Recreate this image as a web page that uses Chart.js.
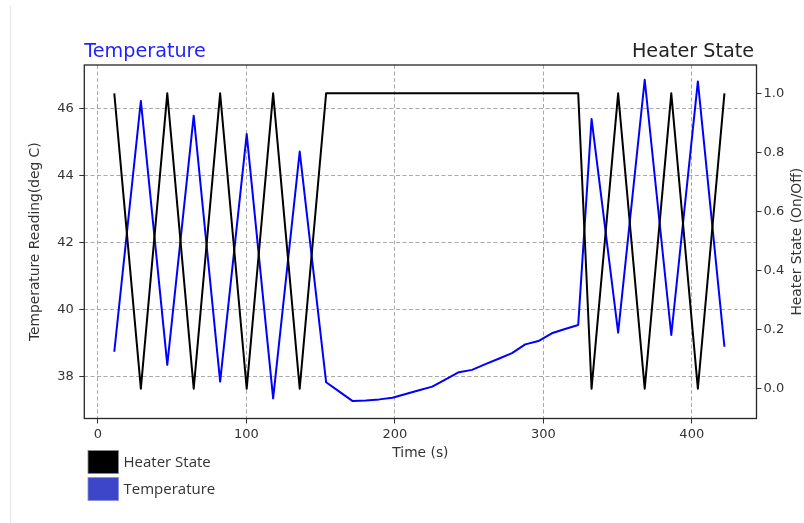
<!DOCTYPE html>
<html><head><meta charset="utf-8">
<script src="https://cdn.jsdelivr.net/npm/chart.js@4/dist/chart.umd.min.js"></script>
<style>
html,body{margin:0;padding:0;background:#fff;}
#wrap{position:relative;width:804px;height:523px;overflow:hidden;background:#fff;}
#edge{position:absolute;left:10px;top:6px;width:1px;height:517px;background:#e4e4e4;}
canvas{position:absolute;left:0;top:0;}
</style></head><body>
<div id="wrap"><div id="edge"></div><canvas id="c" width="804" height="523"></canvas></div>
<script>
// ---- data ----
const times = [11.0, 28.9, 46.7, 64.5, 82.3, 100.2, 118.0, 135.9,
  153.7, 162.6, 171.6, 180.5, 189.5, 198.4, 207.3, 216.3, 225.2, 234.2,
  243.1, 252.0, 261.0, 269.9, 278.9, 287.8, 296.7, 305.7, 314.6, 323.5,
  332.5, 350.4, 368.3, 386.2, 404.1, 422.0];
const temperature = [38.75, 46.23, 38.36, 45.79, 37.86, 45.24, 37.36, 44.72,
  37.84, 37.56, 37.28, 37.30, 37.33, 37.38, 37.49, 37.60, 37.71, 37.93,
  38.14, 38.21, 38.38, 38.54, 38.71, 38.97, 39.07, 39.30, 39.43, 39.55,
  45.69, 39.32, 46.86, 39.25, 46.81, 38.90];
const heaterState = [1, 0, 1, 0, 1, 0, 1, 0,
  1, 1, 1, 1, 1, 1, 1, 1, 1, 1,
  1, 1, 1, 1, 1, 1, 1, 1, 1, 1,
  0, 1, 0, 1, 0, 1];
const xTicks = [0, 100, 200, 300, 400];
const tempTicks = [38, 40, 42, 44, 46];
const heaterTicks = [0, 0.2, 0.4, 0.6, 0.8, 1.0];
const leftTitle = 'Temperature';
const rightTitle = 'Heater State';
const xLabel = 'Time (s)';
const tempLabel = 'Temperature Reading(deg C)';
const heaterLabel = 'Heater State (On/Off)';
const legendItems = [['Heater State', '#000000'], ['Temperature', '#3d46c8']];

const FONT = '"DejaVu Sans", sans-serif';
const tickFont = {family: FONT, size: 13, lineHeight: 1.2};
const titleFont = {family: FONT, size: 13.8, lineHeight: 1.2};

const extras = {
  id: 'extras',
  afterDraw(chart) {
    const ctx = chart.ctx, a = chart.chartArea;
    ctx.save();
    // frame
    ctx.setLineDash([]);
    ctx.lineWidth = 1.3;
    ctx.strokeStyle = '#262626';
    ctx.strokeRect(a.left, a.top, a.right - a.left, a.bottom - a.top);
    // titles
    ctx.font = '19.2px ' + FONT;
    ctx.textBaseline = 'alphabetic';
    ctx.fillStyle = '#1f1fff';
    ctx.textAlign = 'left';
    ctx.fillText(leftTitle, a.left, 57);
    ctx.fillStyle = '#222';
    ctx.textAlign = 'right';
    ctx.fillText(rightTitle, a.right - 2.5, 57);
    // right axis title (reads bottom to top)
    ctx.save();
    ctx.translate(797.5, (a.top + a.bottom) / 2);
    ctx.rotate(-Math.PI / 2);
    ctx.font = '13.8px ' + FONT;
    ctx.fillStyle = '#333';
    ctx.textAlign = 'center';
    ctx.textBaseline = 'middle';
    ctx.fillText(heaterLabel, 0, 0);
    ctx.restore();
    // legend
    ctx.font = '15px "Open Sans", sans-serif';
    ctx.textAlign = 'left';
    ctx.textBaseline = 'middle';
    legendItems.forEach((it, i) => {
      const y = 450.5 + i * 27;
      ctx.fillStyle = it[1];
      ctx.fillRect(88, y, 30.5, 23);
      ctx.lineWidth = 0.8;
      ctx.strokeStyle = i === 0 ? '#888' : '#8a90e0';
      ctx.strokeRect(88, y, 30.5, 23);
      ctx.fillStyle = '#333';
      ctx.fillText(it[0], 123.5, y + 12);
    });
    ctx.restore();
  }
};

new Chart(document.getElementById('c'), {
  type: 'line',
  data: {
    datasets: [
      {label: 'Heater State', data: times.map((t, i) => ({x: t, y: heaterState[i]})),
       yAxisID: 'yHeater', borderColor: '#000000', borderWidth: 2, pointRadius: 0,
       borderJoinStyle: 'round', borderCapStyle: 'butt',
       tension: 0, fill: false, order: 0},
      {label: 'Temperature', data: times.map((t, i) => ({x: t, y: temperature[i]})),
       yAxisID: 'yTemp', borderColor: '#0000ff', borderWidth: 2, pointRadius: 0,
       borderJoinStyle: 'round', borderCapStyle: 'butt',
       tension: 0, fill: false, order: 1}
    ]
  },
  options: {
    responsive: false, animation: false, devicePixelRatio: 1,
    layout: {padding: {top: 65, left: 0, right: 0, bottom: 0}},
    plugins: {legend: {display: false}, tooltip: {enabled: false}, title: {display: false}},
    scales: {
      x: {
        type: 'linear', position: 'bottom', min: -9.2, max: 443.6,
        afterBuildTicks: s => { s.ticks = xTicks.map(v => ({value: v})); },
        afterFit: s => { s.height = 104.5; },
        ticks: {color: '#333', font: tickFont, padding: 3, maxRotation: 0, autoSkip: false},
        grid: {color: '#a9a9a9', lineWidth: 1, tickLength: 5, tickColor: '#333', tickWidth: 1},
        border: {display: false, dash: [4, 2.5]},
        title: {display: true, text: xLabel, color: '#333', font: titleFont, padding: {top: 0, bottom: 61}}
      },
      yTemp: {
        type: 'linear', position: 'left', min: 36.76, max: 47.30,
        afterBuildTicks: s => { s.ticks = tempTicks.map(v => ({value: v})); },
        afterFit: s => { s.width = 84.3; },
        ticks: {color: '#333', font: tickFont, padding: 5.5, autoSkip: false},
        grid: {color: '#a9a9a9', lineWidth: 1, tickLength: 5, tickColor: '#333', tickWidth: 1},
        border: {display: false, dash: [4, 2.5]},
        title: {display: true, text: tempLabel, color: '#333', font: titleFont, padding: {top: 27.2, bottom: 0}}
      },
      yHeater: {
        type: 'linear', position: 'right', min: -0.101, max: 1.096,
        afterBuildTicks: s => { s.ticks = heaterTicks.map(v => ({value: v})); },
        afterFit: s => { s.width = 47.5; },
        ticks: {color: '#333', font: tickFont, padding: 2, autoSkip: false,
                callback: v => Number(v).toFixed(1)},
        grid: {drawOnChartArea: false, tickLength: 5, tickColor: '#333', tickWidth: 1, color: '#333'},
        border: {display: false}
      }
    }
  },
  plugins: [extras]
});
</script>
</body></html>
